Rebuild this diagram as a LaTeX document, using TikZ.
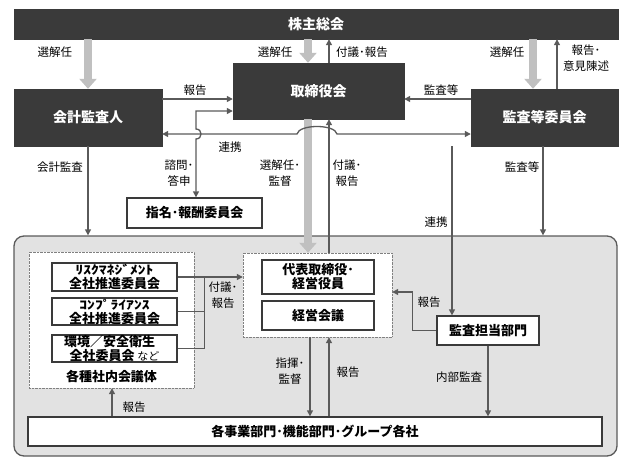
\documentclass[tikz,border=0pt]{standalone}
\usepackage{fontspec}
\setmainfont{Noto Sans CJK JP}
\usetikzlibrary{arrows.meta}

\definecolor{boxDark}{HTML}{3A3A3A}
\definecolor{lineGray}{HTML}{5A5A5A}
\definecolor{arrowGray}{HTML}{C0C0C0}
\definecolor{groupGray}{HTML}{E2E2E2}

\newcommand{\hankaku}[1]{\scalebox{1.3}[1]{\fontsize{12}{12}\selectfont #1}}

\begin{document}
\begin{tikzpicture}
[x=1pt,y=-1pt,
  darkBox/.style={draw=boxDark,fill=boxDark,text=white,inner sep=0pt,%
    font=\fontsize{14}{16}\selectfont\bfseries},%
  whiteBox/.style={draw=boxDark,fill=white,line width=1.3pt,inner sep=0pt,%
    align=center,font=\fontsize{13}{14}\selectfont\bfseries},%
  dottedBox/.style={draw=gray,densely dotted,fill=white,inner sep=0pt},%
  grayArrow/.style={-{Triangle[length=10pt,width=17pt]},line width=8pt,color=arrowGray},%
  thinArrow/.style={-{Triangle[length=6pt,width=6pt]},line width=1.3pt,color=lineGray},%
  thinBoth/.style={{Triangle[length=6pt,width=6pt]}-{Triangle[length=6pt,width=6pt]},%
    line width=1.3pt,color=lineGray},%
  thinLine/.style={line width=1.3pt,color=lineGray},%
  labelText/.style={inner sep=0pt,align=center,font=\fontsize{11.5}{16}\selectfont}]
\useasboundingbox (0,0) rectangle (635,469);

%% outer boxes
\node (group) at (315.5,346) [draw=lineGray,fill=groupGray,line width=1.3pt,
  rounded corners=10pt,minimum width=603pt,minimum height=220pt] {};
\node (kaigitai) at (111.5,320) [dottedBox,minimum width=165pt,minimum height=136pt] {};
\node (keiei) at (317.5,295) [dottedBox,minimum width=149pt,minimum height=84pt] {};

%% dark boxes
\node (kabu) at (316,24) [darkBox,minimum width=604pt,minimum height=30pt] {株主総会};
\node (torishimari) at (318.5,91) [darkBox,minimum width=171pt,minimum height=56pt] {取締役会};
\node (kaikei) at (88,117.5) [darkBox,minimum width=148pt,minimum height=57pt] {会計監査人};
\node (kansa) at (544.5,117.5) [darkBox,minimum width=147pt,minimum height=57pt] {監査等委員会};

%% white boxes
\node (shimei) at (194.5,213) [whiteBox,minimum width=135pt,minimum height=30pt] {指名･報酬委員会};
\node (risk) at (114.5,277) [whiteBox,minimum width=125pt,minimum height=28pt]
  {\hankaku{ﾘｽｸﾏﾈｼﾞﾒﾝﾄ}\\全社推進委員会};
\node (comp) at (114.5,311.5) [whiteBox,minimum width=125pt,minimum height=27pt]
  {\hankaku{ｺﾝﾌﾟﾗｲｱﾝｽ}\\全社推進委員会};
\node (kankyo) at (114.5,348.5) [whiteBox,minimum width=125pt,minimum height=27pt]
  {環境／安全衛生\hspace*{10pt}\\全社委員会 {\mdseries\fontsize{11}{11}\selectfont など}};
\node (kaigiName) at (111.5,376) [inner sep=0pt,font=\fontsize{13}{14}\selectfont\bfseries] {各種社内会議体};
\node (daihyo) at (318,277) [whiteBox,minimum width=112pt,minimum height=34pt] {代表取締役･\\経営役員};
\node (kaigi) at (318,315.5) [whiteBox,minimum width=112pt,minimum height=29pt] {経営会議};
\node (tanto) at (488,330.5) [whiteBox,minimum width=102pt,minimum height=29pt] {監査担当部門};
\node (jigyo) at (315,431.5) [whiteBox,minimum width=574pt,minimum height=29pt] {各事業部門･機能部門･グループ各社};

%% columns and rows
\coordinate (cSenTori) at (308,0);
\coordinate (cFugi) at (329,0);
\coordinate (cSenKansa) at (533,0);
\coordinate (cIken) at (557,0);
\coordinate (cShimon) at (196,0);
\coordinate (cKansaDown) at (543,0);
\coordinate (cRenkei) at (452,0);
\coordinate (cShiki) at (310,0);
\coordinate (cHoukoku) at (112,0);
\coordinate (rHoukoku) at (0,99);
\coordinate (rShimon) at (0,111);
\coordinate (rRenkei) at (0,134);
\coordinate (rTanto) at (0,292);

%% gray arrows
\draw[grayArrow] (kaikei.north |- kabu.south) -- (kaikei.north);
\draw[grayArrow] (cSenTori |- kabu.south) -- (cSenTori |- torishimari.north);
\draw[grayArrow] (cSenKansa |- kabu.south) -- (cSenKansa |- kansa.north);
\draw[grayArrow] (cSenTori |- torishimari.south) -- (cSenTori |- keiei.north);

%% thin arrows
\draw[thinArrow] (cFugi |- torishimari.north) -- (cFugi |- kabu.south);
\draw[thinArrow] (cIken |- kansa.north) -- (cIken |- kabu.south);
\draw[thinArrow] (kaikei.east |- rHoukoku) -- (torishimari.west |- rHoukoku);
\draw[thinArrow] (kansa.west |- rHoukoku) -- (torishimari.east |- rHoukoku);
\draw[thinBoth] (torishimari.west |- rShimon) -- (cShimon |- rShimon) -- (196,129)
  .. controls (202.7,129) and (202.7,139) .. (196,139) -- (cShimon |- shimei.north);
\draw[thinBoth] (kaikei.east |- rRenkei) -- (297,134)
  .. controls (299,124) and (335,124) .. (337,134) -- (kansa.west |- rRenkei);
\draw[thinArrow] (cFugi |- keiei.north) -- (cFugi |- torishimari.south);
\draw[thinArrow] (kaikei.south) -- (kaikei.south |- group.north);
\draw[thinArrow] (cKansaDown |- kansa.south) -- (cKansaDown |- group.north);
\draw[thinArrow] (cRenkei |- kansa.south) -- (cRenkei |- tanto.north);
\draw[thinArrow] (tanto.west) -- ++(-24,0) |- (keiei.east |- rTanto);
\draw[thinArrow] (risk.east) -- (keiei.west |- risk.east);
\draw[thinLine] (comp.east) -- ++(27,0);
\draw[thinLine] (kankyo.east) -| ([xshift=27pt]risk.east);
\draw[thinArrow] (cShiki |- keiei.south) -- (cShiki |- jigyo.north);
\draw[thinArrow] (cFugi |- jigyo.north) -- (cFugi |- keiei.south);
\draw[thinArrow] (tanto.south) -- (tanto.south |- jigyo.north);
\draw[thinArrow] (cHoukoku |- jigyo.north) -- (cHoukoku |- kaigitai.south);

%% labels
\foreach \labelname/\x/\y/\txt in {l1/55/52/選解任, l2/275/52/選解任, l3/362/52/付議･報告,
  l4/507/52/選解任, l5/586/58/{報告･\\意見陳述}, l6/195/90/報告, l7/441/90/監査等,
  l8/230/147/連携, l9/60/167/会計監査, l10/179/173/{諮問･\\答申},
  l11/280/173/{選解任･\\監督}, l12/347/173/{付議･\\報告}, l13/522/167/監査等,
  l14/436/222/連携, l15/223/295/{付議･\\報告}, l16/429/302/報告,
  l17/290/371/{指揮･\\監督}, l18/348/372/報告, l19/459/377/内部監査, l20/134/407/報告}
{
  \node (\labelname) at (\x,\y) [labelText] {\txt};
}
\end{tikzpicture}
\end{document}
